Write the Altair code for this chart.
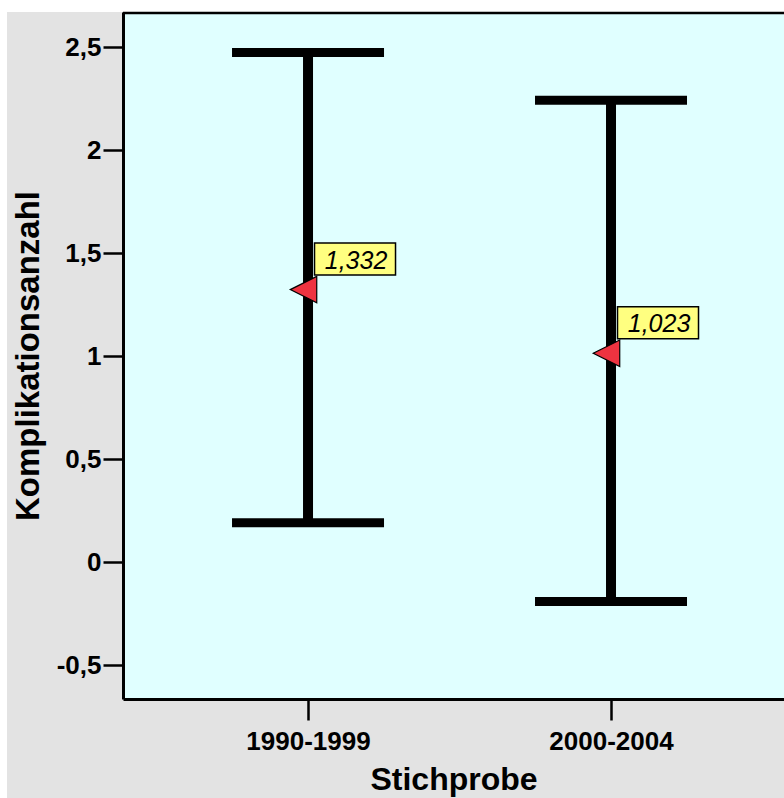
import altair as alt
import pandas as pd

# ---- data ----
categories = ["1990-1999", "2000-2004"]
means = [1.332, 1.023]
lower = [0.190, -0.192]
upper = [2.474, 2.241]
labels = [f"{m:.3f}".replace(".", ",") for m in means]

df = pd.DataFrame({
    "Stichprobe": categories,
    "mean": means,
    "lower": lower,
    "upper": upper,
    "label": labels,
})

FONT = "Liberation Sans"
W, H = 661, 687

xscale = alt.Scale(type="point", padding=0.5908, align=0.5168)
yscale = alt.Scale(domain=[-0.665, 2.67], nice=False, zero=False)

x_axis = alt.Axis(
    title="Stichprobe", labelAngle=0, grid=False,
    domainColor="black", domainWidth=3, tickColor="black", tickWidth=2.5, tickSize=21,
    labelFontSize=26, labelFontWeight="bold", labelFont=FONT, labelColor="black", labelPadding=8,
    titleFontSize=32, titleFontWeight="bold", titleFont=FONT, titleColor="black", titlePadding=10,
    zindex=1,
)
y_axis = alt.Axis(
    title="Komplikationsanzahl", grid=False,
    values=[-0.5, 0, 0.5, 1, 1.5, 2, 2.5], format=".1~f",
    labelExpr="replace(replace(datum.label, '.', ','), '\u2212', '-')",
    domainColor="black", domainWidth=3, tickColor="black", tickWidth=2.5, tickSize=20,
    labelFontSize=26, labelFontWeight="bold", labelFont=FONT, labelColor="black", labelPadding=2,
    titleFontSize=33, titleFontWeight="bold", titleFont=FONT, titleColor="black", titlePadding=11,
    zindex=1,
)

one = alt.Data(values=[{"a": 1}])

gray_bg = alt.Chart(one).mark_rect(color="#e3e3e3").encode(
    x=alt.value(-116), x2=alt.value(W + 20), y=alt.value(0), y2=alt.value(H + 120)
)
plot_bg = alt.Chart(one).mark_rect(color="#e0ffff").encode(
    x=alt.value(0), x2=alt.value(W + 20), y=alt.value(0), y2=alt.value(H)
)
top_border = alt.Chart(one).mark_rule(color="black", strokeWidth=2.5).encode(
    x=alt.value(0), x2=alt.value(W + 20), y=alt.value(1)
)

base = alt.Chart(df)

whisker = base.mark_rule(color="black", strokeWidth=10).encode(
    x=alt.X("Stichprobe:N", scale=xscale, axis=x_axis, sort=categories),
    y=alt.Y("lower:Q", scale=yscale, axis=y_axis),
    y2="upper:Q",
)
cap_low = base.mark_tick(color="black", thickness=9, size=152, opacity=1).encode(
    x=alt.X("Stichprobe:N", sort=categories), y="lower:Q"
)
cap_high = base.mark_tick(color="black", thickness=9, size=152, opacity=1).encode(
    x=alt.X("Stichprobe:N", sort=categories), y="upper:Q"
)
marker = base.mark_point(
    shape="M1,-1L-1,0L1,1Z", size=700, filled=True, fill="#ee3340",
    stroke="black", strokeWidth=1.2, opacity=1, xOffset=-4.5, yOffset=2,
).encode(x=alt.X("Stichprobe:N", sort=categories), y="mean:Q")
box = base.mark_rect(
    width=81, height=32, fill="#ffff80", stroke="black", strokeWidth=1.5,
    xOffset=47, yOffset=-28.5,
).encode(x=alt.X("Stichprobe:N", sort=categories), y="mean:Q")
text = base.mark_text(
    font=FONT, fontSize=25, fontStyle="italic", color="black",
    align="center", baseline="alphabetic", xOffset=48, yOffset=-19,
).encode(x=alt.X("Stichprobe:N", sort=categories), y="mean:Q", text="label:N")

chart = alt.layer(
    gray_bg, plot_bg, top_border, whisker, cap_low, cap_high, marker, box, text
).properties(
    width=W, height=H,
    autosize=alt.AutoSizeParams(type="none"),
    padding={"left": 123, "top": 12, "right": 0, "bottom": 99},
    background="white",
).configure_view(stroke=None)

chart.save("out.html", embed_options={"renderer": "svg", "actions": False})
